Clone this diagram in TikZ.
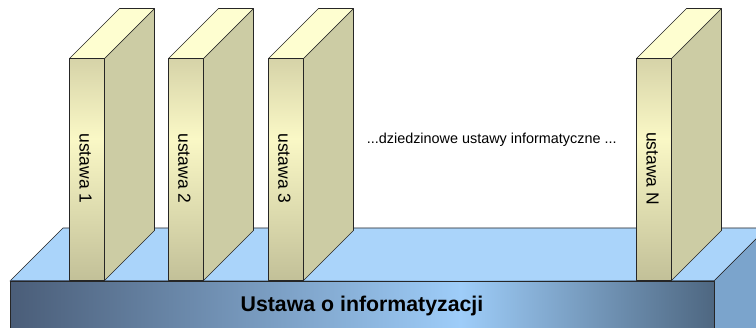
\documentclass[tikz,border=0pt]{standalone}
\usepackage{fontspec}
\setmainfont{Liberation Sans}
\definecolor{basetopc}{RGB}{170,212,250}
\definecolor{basesidec}{RGB}{123,164,204}
\definecolor{baseL}{RGB}{74,93,120}
\definecolor{baseM}{RGB}{158,205,249}
\definecolor{baseR}{RGB}{78,103,129}
\definecolor{booktopc}{RGB}{254,254,208}
\definecolor{booksidec}{RGB}{204,204,164}
\definecolor{bookT}{RGB}{214,211,168}
\definecolor{bookM}{RGB}{250,248,198}
\definecolor{bookB}{RGB}{194,192,152}
\pgfdeclarehorizontalshading{basefront}{100bp}{color(0bp)=(baseL); color(25bp)=(baseL); color(57bp)=(baseM); color(75bp)=(baseR); color(100bp)=(baseR)}
\pgfdeclareverticalshading{bookfront}{100bp}{color(0bp)=(bookB); color(25bp)=(bookB); color(57bp)=(bookM); color(75bp)=(bookT); color(100bp)=(bookT)}
\begin{document}
\begin{tikzpicture}[x=1pt,y=-1pt,
  edge/.style={draw=black!85,line width=0.7pt,line join=round},
  booktop/.style={edge,fill=booktopc},
  bookside/.style={edge,fill=booksidec},
  bookfrontst/.style={edge,shading=bookfront},
  lbl/.style={font=\fontsize{17.5}{20}\selectfont,text=black,rotate=-90,inner sep=0pt},
  midlbl/.style={font=\fontsize{14.4}{17}\selectfont,text=black,inner sep=0pt,anchor=base},
  baselbl/.style={font=\fontsize{21.3}{25}\selectfont\bfseries,text=black,inner sep=0pt,anchor=base}
]
\useasboundingbox (0,0) rectangle (756,328);
\begin{scope}
  \clip (0,0) rectangle (756,328);
  \path[edge,fill=basetopc] (10,281) -- (63,228) -- (767,228) -- (714,281) -- cycle;
  \path[edge,fill=basesidec] (714,281) -- (767,228) -- (767,400) -- (714,453) -- cycle;
  \path[edge,shading=basefront] (10,281) rectangle (714,360);
\end{scope}
\node[baselbl] (base) at (362,311.5) {Ustawa o informatyzacji};
\foreach \x/\t/\n in {69.5/ustawa 1/b1, 168.5/ustawa 2/b2, 268.5/ustawa 3/b3, 636.5/ustawa N/bN} {
  \path[bookfrontst] (\x,58.5) rectangle ++(35,222);
  \path[bookside] (\x+35,58.5) -- ++(50,-50) -- ++(0,222) -- ++(-50,50) -- cycle;
  \path[booktop] (\x,58.5) -- ++(50,-50) -- ++(35,0) -- ++(-50,50) -- cycle;
  \node[lbl] (\n) at (\x+16,168.5) {\t};
}
\node[midlbl] (mid) at (491.7,144) {...dziedzinowe ustawy informatyczne ...};
\end{tikzpicture}
\end{document}
